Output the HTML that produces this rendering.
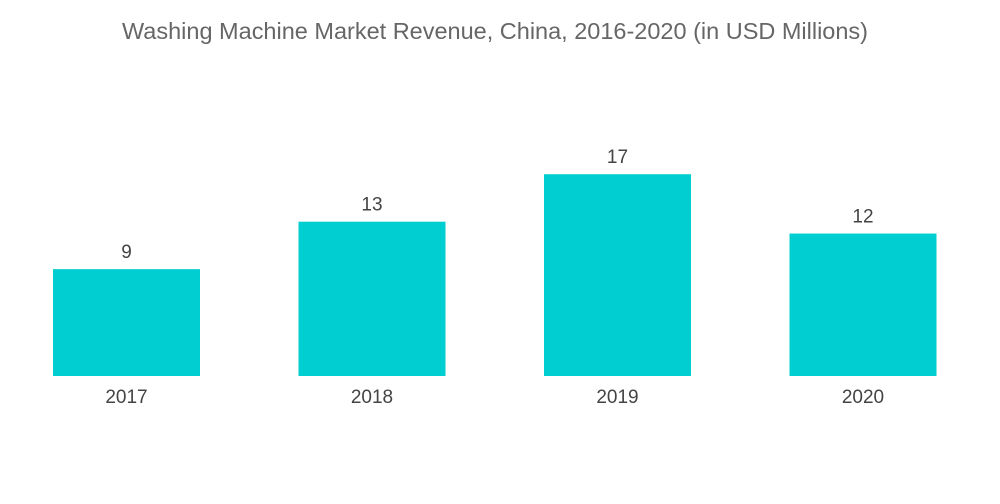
<!DOCTYPE html>
<html><head><meta charset="utf-8"><style>
html,body{margin:0;padding:0;background:#fff;width:1000px;height:504px;overflow:hidden}
text{font-family:"Liberation Sans",sans-serif}
</style></head><body>
<svg id="chart" width="1000" height="504" viewBox="0 0 1000 504">
<text x="495" y="39" text-anchor="middle" font-size="23" fill="#666" textLength="746" lengthAdjust="spacingAndGlyphs">Washing Machine Market Revenue, China, 2016-2020 (in USD Millions)</text>
<g id="bars"></g>
</svg>
<script>
const categories=["2017","2018","2019","2020"];
const values=[9,13,17,12];
const baseY=376, pxPerUnit=11.87, firstX=53, pitch=245.5, barW=147;
function yScale(v){return baseY - v*pxPerUnit;}
function xScale(i){return firstX + i*pitch;}
const g=document.getElementById('bars');
const ns="http://www.w3.org/2000/svg";
categories.forEach((c,i)=>{
  const x=xScale(i), y=yScale(values[i]);
  const r=document.createElementNS(ns,'rect');
  
  
  r.setAttribute('x',x);r.setAttribute('y',y);r.setAttribute('width',barW);r.setAttribute('height',baseY-y);
  r.setAttribute('fill','#00ced1');
  g.appendChild(r);
  const t=document.createElementNS(ns,'text');
  
  
  t.setAttribute('x',x+barW/2);t.setAttribute('y',y-11);
  t.setAttribute('text-anchor','middle');t.setAttribute('font-size','19');t.setAttribute('fill','#444');
  t.textContent=values[i];
  g.appendChild(t);
  const l=document.createElementNS(ns,'text');
  
  
  l.setAttribute('x',x+barW/2);l.setAttribute('y',403);
  l.setAttribute('text-anchor','middle');l.setAttribute('font-size','19');l.setAttribute('fill','#444');
  l.textContent=c;
  g.appendChild(l);
});
</script>
</body></html>
